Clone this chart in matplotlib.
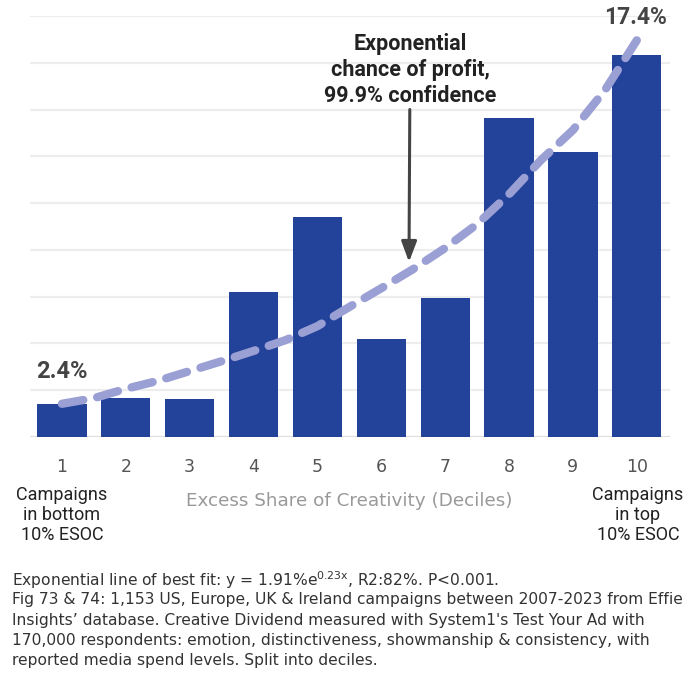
import matplotlib
matplotlib.use("Agg")
from matplotlib import pyplot as plt

plt.rcParams['font.family'] = ['Roboto', 'DejaVu Sans']
plt.rcParams['mathtext.fontset'] = 'dejavusans'

# deciles and bar heights (arbitrary units, one gridline = 1)
deciles = [1, 2, 3, 4, 5, 6, 7, 8, 9, 10]
bar_vals = [0.71, 0.83, 0.81, 3.10, 4.70, 2.09, 2.97, 6.82, 6.09, 8.16]

# exponential best-fit line
trend_x = [1, 1.5, 2, 2.5, 3, 3.5, 4, 4.5, 5, 5.5, 6, 6.5, 7, 7.5, 8, 8.5, 9, 9.5, 10]
trend_y = [0.71, 0.83, 1.03, 1.20, 1.41, 1.62, 1.84, 2.07, 2.37, 2.78,
           3.18, 3.59, 4.04, 4.55, 5.19, 5.92, 6.56, 7.41, 8.48]

tick_labels = [str(d) for d in deciles]

caption_lines = [
    "Exponential line of best fit: y = 1.91%e$^{\\mathrm{0.23x}}$, R2:82%. P<0.001.",
    "Fig 73 & 74: 1,153 US, Europe, UK & Ireland campaigns between 2007-2023 from Effie",
    "Insights\u2019 database. Creative Dividend measured with System1's Test Your Ad with",
    "170,000 respondents: emotion, distinctiveness, showmanship & consistency, with",
    "reported media spend levels. Split into deciles.",
]

W, H = 692, 673
fig = plt.figure(figsize=(W / 100, H / 100), dpi=100)
ax = fig.add_axes([30 / W, 1 - 437 / H, 640 / W, 421 / H])

ax.set_xlim(0.5, 10.52)
ax.set_ylim(0, 9)

for g in range(0, 10):
    ax.axhline(g, color='#ededed' if g else '#dedede', lw=1.6, zorder=0)

ax.bar(deciles, bar_vals, width=0.77, color='#23439a', zorder=2)

ax.plot(trend_x, trend_y, color='#9a9fd4', lw=6, dashes=(2.6, 1.7),
        solid_capstyle='round', dash_capstyle='round', zorder=3)

for s in ax.spines.values():
    s.set_visible(False)
ax.set_yticks([])
ax.set_xticks(deciles)
ax.set_xticklabels(tick_labels, fontsize=12.5, color='#555555', family='DejaVu Sans')
ax.tick_params(axis='x', length=0, pad=15)

# value labels at the ends of the line
fig.text(62 / W, 1 - 372 / H, '2.4%', ha='center', va='center',
         fontsize=17, fontweight='bold', color='#444444')
fig.text(636 / W, 1 - 18 / H, '17.4%', ha='center', va='center',
         fontsize=16.5, fontweight='bold', color='#444444')

# annotation with arrow
ax.annotate('Exponential\nchance of profit,\n99.9% confidence',
            xy=(409 / W, 1 - 262 / H), xycoords='figure fraction',
            xytext=(410 / W, 1 - 70 / H), textcoords='figure fraction',
            ha='center', va='center', fontsize=15.5, fontweight='bold',
            color='#222222', linespacing=1.22,
            arrowprops=dict(arrowstyle='-|>,head_length=0.8,head_width=0.3',
                            color='#444444', lw=2.2, shrinkA=0, shrinkB=0))

fig.text(349 / W, 1 - 501 / H, 'Excess Share of Creativity (Deciles)',
         ha='center', va='center', fontsize=13.2, color='#999999', family='DejaVu Sans')
fig.text(62 / W, 1 - 515 / H, 'Campaigns\nin bottom\n10% ESOC', ha='center',
         va='center', fontsize=13, color='#222222', linespacing=1.12)
fig.text(638 / W, 1 - 515 / H, 'Campaigns\nin top\n10% ESOC', ha='center',
         va='center', fontsize=13, color='#222222', linespacing=1.12)

for i, line in enumerate(caption_lines):
    fig.text(12 / W, 1 - (578 + 20.3 * i) / H, line, ha='left', va='center_baseline',
             fontsize=11.2, color='#333333', family='DejaVu Sans')

fig.savefig('out.png', dpi=100)
